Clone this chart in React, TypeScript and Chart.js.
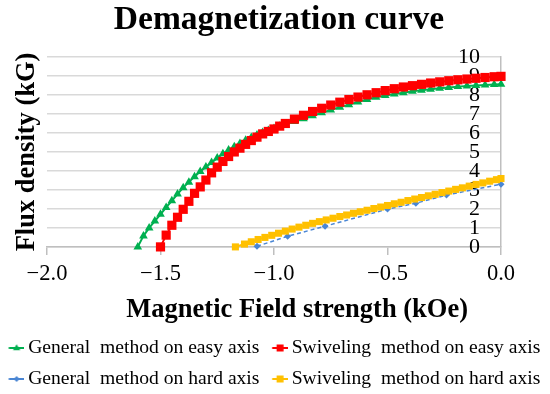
import React, { useEffect, useRef } from 'react';
import { Chart, registerables } from 'chart.js';

Chart.register(...registerables);

const FONT = "'Liberation Serif', 'Times New Roman', serif";

const TITLE = 'Demagnetization curve';
const X_TITLE = '       Magnetic Field strength (kOe)';
const Y_TITLE = 'Flux density (kG)';

const SERIES_LABELS = [
  'General  method on easy axis',
  'Swiveling  method on easy axis',
  'General  method on hard axis',
  'Swiveling  method on hard axis',
];

const GREEN_X = [
  -1.6, -1.575, -1.55, -1.525, -1.5, -1.475, -1.45, -1.425, -1.4, -1.375, -1.35, -1.325, -1.3, -1.275,
  -1.25, -1.225, -1.2, -1.175, -1.15, -1.125, -1.1, -1.075, -1.05, -1.025, -1.0, -0.975, -0.95,
  -0.91, -0.87, -0.83, -0.79, -0.75, -0.71, -0.67, -0.63, -0.59, -0.55, -0.51, -0.47, -0.43, -0.39,
  -0.35, -0.31, -0.27, -0.23, -0.19, -0.15, -0.11, -0.07, -0.03, 0,
];
const GREEN_Y = [
  0.0, 0.58, 1.0, 1.36, 1.72, 2.08, 2.43, 2.78, 3.12, 3.41, 3.7, 3.97, 4.21, 4.44,
  4.68, 4.9, 5.1, 5.27, 5.44, 5.61, 5.76, 5.89, 6.02, 6.13, 6.24, 6.35, 6.45,
  6.6, 6.75, 6.91, 7.06, 7.21, 7.36, 7.49, 7.63, 7.76, 7.88, 7.97, 8.05, 8.12, 8.2,
  8.25, 8.3, 8.35, 8.4, 8.44, 8.47, 8.5, 8.53, 8.55, 8.57,
];

const RED_X = [
  -1.5, -1.475, -1.45, -1.425, -1.4, -1.375, -1.35, -1.325, -1.3, -1.275, -1.25, -1.225, -1.2,
  -1.175, -1.15, -1.125, -1.1, -1.075, -1.05, -1.025, -1.0, -0.975, -0.95,
  -0.91, -0.87, -0.83, -0.79, -0.75, -0.71, -0.67, -0.63, -0.59, -0.55, -0.51, -0.47, -0.43, -0.39,
  -0.35, -0.31, -0.27, -0.23, -0.19, -0.15, -0.11, -0.07, -0.03, 0,
];
const RED_Y = [
  0.0, 0.62, 1.14, 1.56, 1.98, 2.4, 2.82, 3.16, 3.52, 3.9, 4.2, 4.5, 4.76,
  5.0, 5.2, 5.4, 5.6, 5.78, 5.95, 6.08, 6.21, 6.36, 6.5,
  6.73, 6.93, 7.13, 7.3, 7.47, 7.62, 7.76, 7.89, 8.01, 8.12, 8.23, 8.33, 8.42, 8.49,
  8.56, 8.63, 8.69, 8.75, 8.8, 8.84, 8.88, 8.92, 8.96, 8.98,
];

const BLUE_X = [-1.075, -0.94, -0.775, -0.5, -0.375, -0.24, 0];
const BLUE_Y = [0.03, 0.56, 1.09, 1.99, 2.3, 2.73, 3.3];

const YELLOW_X = [
  -1.17, -1.13, -1.1, -1.07, -1.04, -1.01, -0.98, -0.95, -0.92, -0.89, -0.86, -0.83, -0.8, -0.77,
  -0.74, -0.71, -0.68, -0.65, -0.62, -0.59, -0.56, -0.53, -0.5, -0.47, -0.44, -0.41, -0.38, -0.35,
  -0.32, -0.29, -0.26, -0.23, -0.2, -0.17, -0.14, -0.11, -0.08, -0.05, -0.02, 0,
];
const YELLOW_Y = [
  0, 0.15, 0.27, 0.39, 0.5, 0.61, 0.72, 0.83, 0.94, 1.04, 1.14, 1.24, 1.33, 1.42,
  1.51, 1.6, 1.68, 1.77, 1.85, 1.93, 2.02, 2.1, 2.18, 2.27, 2.35, 2.44, 2.52, 2.6,
  2.69, 2.77, 2.86, 2.94, 3.03, 3.11, 3.2, 3.29, 3.37, 3.46, 3.54, 3.6,
];

const X_MIN = -2;
const X_MAX = 0;
const X_STEP = 0.5;
const Y_MIN = 0;
const Y_MAX = 10;
const Y_STEP = 1;

const COLORS = ['#00b050', '#ff0000', '#4a86d4', '#ffc000'];
const POINT_STYLES = ['triangle', 'rect', 'rectRot', 'rect'];
const POINT_RADII = [5, 6.5, 3.5, 5];

function toPoints(xs: number[], ys: number[]) {
  return xs.map((x, i) => ({ x, y: ys[i] }));
}

function makeIcon(color: string, style: string, r: number) {
  const c = document.createElement('canvas');
  c.width = 23;
  c.height = 12;
  const ctx = c.getContext('2d')!;
  ctx.strokeStyle = color;
  ctx.fillStyle = color;
  ctx.lineWidth = 2;
  ctx.beginPath();
  ctx.moveTo(7.3, 6);
  ctx.lineTo(23, 6);
  ctx.stroke();
  const cx = 15.2;
  const cy = 6;
  ctx.beginPath();
  if (style === 'triangle') {
    ctx.moveTo(cx, cy - r);
    ctx.lineTo(cx + r * 0.95, cy + r * 0.6);
    ctx.lineTo(cx - r * 0.95, cy + r * 0.6);
  } else if (style === 'rectRot') {
    ctx.moveTo(cx, cy - r);
    ctx.lineTo(cx + r, cy);
    ctx.lineTo(cx, cy + r);
    ctx.lineTo(cx - r, cy);
  } else {
    ctx.rect(cx - r, cy - r, 2 * r, 2 * r);
  }
  ctx.closePath();
  ctx.fill();
  return c;
}

function fmtX(v: number) {
  const s = Math.abs(v).toFixed(1);
  return v < 0 ? '\u2212' + s : s;
}

export default function App() {
  const ref = useRef<HTMLCanvasElement>(null);

  useEffect(() => {
    const canvas = ref.current;
    if (!canvas) return;
    const icons = [
      makeIcon(COLORS[0], 'triangle', 3.8),
      makeIcon(COLORS[1], 'rect', 3.5),
      makeIcon(COLORS[2], 'rectRot', 3),
      makeIcon(COLORS[3], 'rect', 3.5),
    ];
    const series = [
      toPoints(GREEN_X, GREEN_Y),
      toPoints(RED_X, RED_Y),
      toPoints(BLUE_X, BLUE_Y),
      toPoints(YELLOW_X, YELLOW_Y),
    ];
    const orders = [1, 0, 1, 0];
    const datasets = series.map((data, i) => ({
      label: SERIES_LABELS[i],
      data,
      showLine: true,
      borderColor: COLORS[i],
      backgroundColor: COLORS[i],
      borderWidth: i === 2 ? 1.5 : 2,
      borderDash: i === 2 ? [4, 3] : [],
      pointStyle: POINT_STYLES[i],
      pointRadius: POINT_RADII[i],
      pointBorderWidth: 0,
      pointHoverRadius: POINT_RADII[i],
      yAxisID: 'y',
      xAxisID: 'x',
      order: orders[i],
      clip: false as any,
    }));

    const chart = new Chart(canvas, {
      type: 'scatter',
      data: { datasets },
      options: {
        responsive: false,
        animation: false,
        events: [],
        layout: { padding: { left: -4, right: -12, top: 0, bottom: -4.8 } },
        plugins: {
          title: {
            display: true,
            text: TITLE,
            color: '#000',
            font: { family: FONT, size: 33.5, weight: 'bold' },
            padding: { top: 0, bottom: 16.8 },
          },
          legend: {
            position: 'bottom',
            align: 'start',
            labels: {
              usePointStyle: true,
              pointStyleWidth: 11,
              color: '#000',
              padding: 11.4,
              font: { family: FONT, size: 19.6 },
              generateLabels: (ch: any) =>
                ch.data.datasets.map((ds: any, i: number) => ({
                  text: ds.label,
                  fillStyle: ds.backgroundColor,
                  strokeStyle: ds.borderColor,
                  lineWidth: 0,
                  pointStyle: icons[i],
                  hidden: false,
                  datasetIndex: i,
                  fontColor: '#000',
                })),
            },
          },
          tooltip: { enabled: false },
        },
        scales: {
          x: {
            type: 'linear',
            min: X_MIN,
            max: X_MAX,
            ticks: {
              stepSize: X_STEP,
              color: '#000',
              font: { family: FONT, size: 22.5 },
              padding: 6,
              callback: (v: any) => fmtX(Number(v)),
            },
            grid: {
              drawOnChartArea: false,
              drawTicks: true,
              tickLength: 8,
              color: '#bfbfbf',
              lineWidth: 1.5,
            },
            border: { color: '#bfbfbf', width: 1.5 },
            title: {
              display: true,
              text: X_TITLE,
              color: '#000',
              font: { family: FONT, size: 26.5, weight: 'bold' },
              padding: { top: 0, bottom: 1.1 },
            },
            afterFit: (s: any) => {
              s.paddingRight = 49;
            },
          },
          y: {
            type: 'linear',
            axis: 'y',
            position: 'right',
            min: Y_MIN,
            max: Y_MAX,
            ticks: {
              stepSize: Y_STEP,
              autoSkip: false,
              mirror: true,
              color: '#000',
              font: { family: FONT, size: 22 },
              padding: -21,
            },
            grid: { color: '#d9d9d9', lineWidth: 1.5, drawTicks: false },
            border: { color: '#bfbfbf', width: 1.5 },
            afterFit: (s: any) => {
              s.width = 0;
            },
          },
          yTitle: {
            type: 'linear',
            axis: 'y',
            position: 'left',
            min: Y_MIN,
            max: Y_MAX,
            ticks: { display: false },
            grid: { display: false, drawTicks: false },
            border: { display: false },
            title: {
              display: true,
              text: Y_TITLE,
              color: '#000',
              font: { family: FONT, size: 26.5, weight: 'bold' },
              padding: { top: 15.1, bottom: 4.1 },
            },
          },
        } as any,
      } as any,
    });
    return () => chart.destroy();
  }, []);

  return (
    <div style={{ position: 'absolute', left: 0, top: 0, width: 550, height: 394, background: '#fff' }}>
      <canvas ref={ref} width={550} height={394} style={{ display: 'block', width: 550, height: 394 }} />
    </div>
  );
}
